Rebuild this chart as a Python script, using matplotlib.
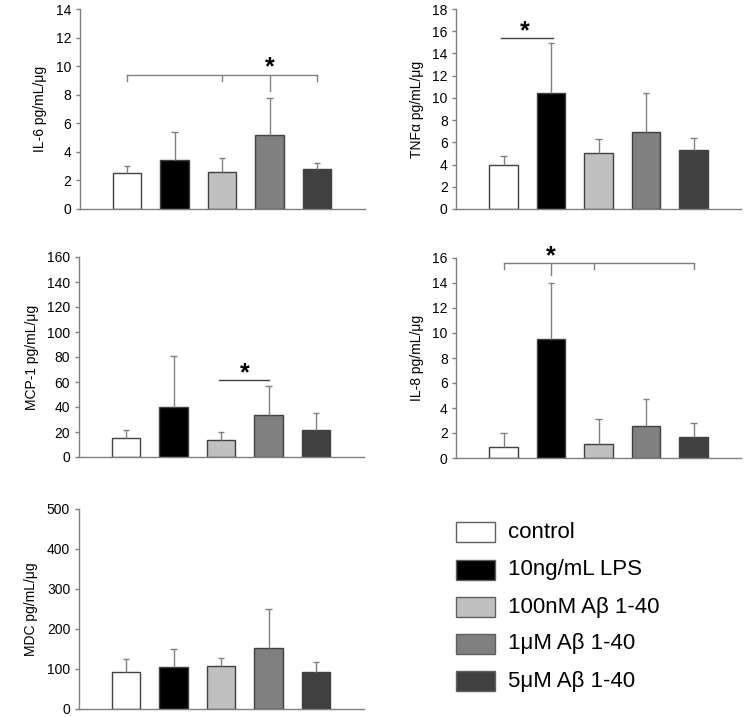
import matplotlib
matplotlib.use("Agg")
import matplotlib.pyplot as plt
from matplotlib.patches import Rectangle

plt.rcParams['font.family'] = ['Liberation Sans', 'DejaVu Sans']

# groups and colours
groups = ['control', '10ng/mL LPS', '100nM A\u03b2 1-40', '1\u03bcM A\u03b2 1-40', '5\u03bcM A\u03b2 1-40']
colors = ['#ffffff', '#000000', '#c0c0c0', '#808080', '#404040']

# means and upper end of error bars
il6 = [2.5, 3.45, 2.6, 5.2, 2.8]
il6_top = [3.0, 5.4, 3.55, 7.8, 3.25]
tnf = [4.0, 10.45, 5.05, 6.95, 5.3]
tnf_top = [4.75, 14.9, 6.3, 10.45, 6.35]
mcp1 = [15, 40, 14, 34, 21.5]
mcp1_top = [22, 81, 20, 57, 35]
il8 = [0.85, 9.5, 1.1, 2.6, 1.7]
il8_top = [2.0, 14.0, 3.15, 4.75, 2.8]
mdc = [92, 106, 107, 153, 93]
mdc_top = [124, 150, 128, 250, 118]

x = [1, 2, 3, 4, 5]

fig = plt.figure(figsize=(7.45, 7.17), dpi=100)
W, H = 745.0, 717.0


def make_axes(left, zero_y, ymax, step, label):
    ax = fig.add_axes([left / W, (H - zero_y) / H, 285 / W, 200 / H])
    ax.set_xlim(0, 6)
    ax.set_ylim(0, ymax)
    ax.set_yticks(range(0, ymax + 1, step))
    ax.set_xticks([])
    for s in ['top', 'right']:
        ax.spines[s].set_visible(False)
    for s in ['left', 'bottom']:
        ax.spines[s].set_color('#808080')
        ax.spines[s].set_linewidth(1)
    ax.tick_params(axis='y', length=3, width=1, color='#808080', pad=3, labelsize=10)
    ax.set_ylabel(label, fontsize=10, labelpad=6)
    return ax


def draw_bars(ax, vals, tops):
    ax.bar(x, vals, width=0.61, color=colors, edgecolor='#404040', linewidth=1, zorder=2)
    ax.vlines(x, vals, tops, color='#808080', linewidth=1, zorder=3)
    ax.hlines(tops, [i - 0.07 for i in x], [i + 0.07 for i in x], color='#808080', linewidth=1, zorder=3)


def bracket(ax, y, xs, drop, center, center_drop, star_y):
    c = '#808080'
    ax.plot([xs[0], xs[-1]], [y, y], color=c, lw=1)
    for xi in xs:
        ax.plot([xi, xi], [y, y - drop], color=c, lw=1)
    ax.plot([center, center], [y, y - center_drop], color=c, lw=1)
    ax.text(center, star_y, '*', ha='center', va='center', fontsize=18, fontweight='bold')


ax1 = make_axes(79.5, 209, 14, 2, 'IL-6 pg/mL/\u03bcg')
draw_bars(ax1, il6, il6_top)
bracket(ax1, 9.35, [1, 3, 5], 0.4, 4, 1.1, 9.9)

ax2 = make_axes(456, 209, 18, 2, 'TNF\u03b1 pg/mL/\u03bcg')
draw_bars(ax2, tnf, tnf_top)
ax2.plot([0.95, 2.05], [15.4, 15.4], color='#404040', lw=1)
ax2.text(1.45, 16.0, '*', ha='center', va='center', fontsize=18, fontweight='bold')

ax3 = make_axes(78.5, 457, 160, 20, 'MCP-1 pg/mL/\u03bcg')
draw_bars(ax3, mcp1, mcp1_top)
ax3.plot([2.95, 4.0], [62, 62], color='#404040', lw=1)
ax3.text(3.5, 67, '*', ha='center', va='center', fontsize=18, fontweight='bold')

ax4 = make_axes(456, 458, 16, 2, 'IL-8 pg/mL/\u03bcg')
draw_bars(ax4, il8, il8_top)
bracket(ax4, 15.6, [1, 2.9, 5], 0.45, 2, 1.0, 16.15)

ax5 = make_axes(78.5, 709, 500, 100, 'MDC pg/mL/\u03bcg')
draw_bars(ax5, mdc, mdc_top)

# legend drawn in pixel coordinates
lax = fig.add_axes([0, 0, 1, 1], facecolor='none')
lax.set_xlim(0, W)
lax.set_ylim(H, 0)
lax.axis('off')
rows = [532, 570, 607, 644, 681]
for lab, col, ry in zip(groups, colors, rows):
    lax.add_patch(Rectangle((456, ry - 10), 39, 20, facecolor=col, edgecolor='#606060', lw=1))
    lax.text(508, ry, lab, fontsize=16, va='center', ha='left')

fig.savefig('out.png', dpi=100)
